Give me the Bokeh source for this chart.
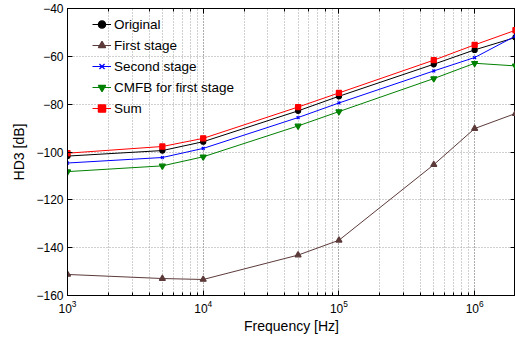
from bokeh.plotting import figure
from bokeh.models import FixedTicker, LinearAxis, LogAxis, Range1d, Legend
from bokeh.embed import file_html
from bokeh.resources import INLINE

freq = [1e3, 5e3, 1e4, 5e4, 1e5, 5e5, 1e6, 2e6]
original = [-101.7, -99.4, -95.7, -82.8, -76.7, -63.3, -57.3, -52.1]
first_stage = [-151.2, -152.9, -153.3, -143.1, -136.9, -105.3, -90.2, -83.9]
second_stage = [-104.6, -102.3, -98.5, -85.6, -79.5, -66.1, -60.5, -51.5]
cmfb = [-108.2, -105.8, -102.0, -89.1, -83.1, -69.3, -62.9, -64.0]
sum_ = [-100.5, -97.7, -94.3, -81.2, -75.3, -61.6, -55.2, -49.1]

y_ticks = [-160, -140, -120, -100, -80, -60, -40]
x_ticks = [1e3, 1e4, 1e5, 1e6]

FONT = "Liberation Sans"

p = figure(width=515, height=337, x_axis_type="log",
           x_range=Range1d(1e3, 2e6), y_range=Range1d(-160, -40),
           output_backend="svg", toolbar_location=None,
           min_border_left=67, min_border_right=0, min_border_top=8,
           min_border_bottom=42)
p.outline_line_color = "black"
p.outline_line_width = 1

grid_color = "#a0a0a0"
p.xgrid.grid_line_color = grid_color
p.xgrid.grid_line_dash = "1 2"
p.xgrid.minor_grid_line_color = grid_color
p.xgrid.minor_grid_line_dash = "1 2"
p.ygrid.grid_line_color = grid_color
p.ygrid.grid_line_dash = "1 2"
p.ygrid.ticker = FixedTicker(ticks=y_ticks)

xa = p.xaxis[0]
xa.ticker.desired_num_ticks = 4
xa.axis_label = "Frequency [Hz]"
ya = p.yaxis[0]
ya.ticker = FixedTicker(ticks=y_ticks)
ya.major_label_overrides = {t: ("\u2212" + str(-t)) for t in y_ticks}
ya.axis_label = "HD3 [dB]"

for ax in (xa, ya):
    ax.major_tick_in = 5
    ax.major_tick_out = 0
    ax.minor_tick_in = 3
    ax.minor_tick_out = 0
    ax.axis_line_color = "black"
    ax.major_label_text_font = FONT
    ax.major_label_text_font_size = "12px"
    ax.major_label_text_color = "black"
    ax.axis_label_text_font = FONT
    ax.axis_label_text_font_size = "14px"
    ax.axis_label_text_font_style = "normal"
    ax.axis_label_text_color = "black"
ya.minor_tick_line_color = None
xa.axis_label_standoff = 2
ya.axis_label_standoff = 6
xa.major_label_standoff = 4
ya.major_label_standoff = 4

# mirrored axes (ticks only)
top = LogAxis(major_tick_in=5, major_tick_out=0, minor_tick_in=3, minor_tick_out=0,
              major_label_text_font_size="1px", major_label_text_color=None,
              major_label_standoff=0, axis_line_color="black")
right = LinearAxis(ticker=FixedTicker(ticks=y_ticks), major_tick_in=5, major_tick_out=0,
                   minor_tick_line_color=None, major_label_text_font_size="1px",
                   major_label_text_color=None, major_label_standoff=0,
                   axis_line_color="black")
p.add_layout(top, "above")
p.add_layout(right, "right")

items = []
series = [
    ("Original", original, "#000000", "circle", 5),
    ("First stage", first_stage, "#5c3a3a", "triangle", 6),
    ("Second stage", second_stage, "#0000ff", "x", 4),
    ("CMFB for first stage", cmfb, "#008000", "inverted_triangle", 6),
    ("Sum", sum_, "#ff0000", "square", 5),
]
for name, vals, color, marker, size in series:
    l = p.line(freq, vals, line_color=color, line_width=1)
    s = p.scatter(freq, vals, marker=marker, size=size, color=color, line_width=1.3)
    items.append((name, [l, s]))

legend = Legend(items=items, location=(25, 178), padding=0, margin=0,
                border_line_alpha=0, background_fill_alpha=0,
                glyph_width=19, glyph_height=18, label_height=18,
                spacing=3, label_standoff=3,
                label_text_font=FONT, label_text_font_size="13.5px",
                label_text_color="black")
p.add_layout(legend, "center")

open("out.html", "w").write(file_html(p, INLINE))
